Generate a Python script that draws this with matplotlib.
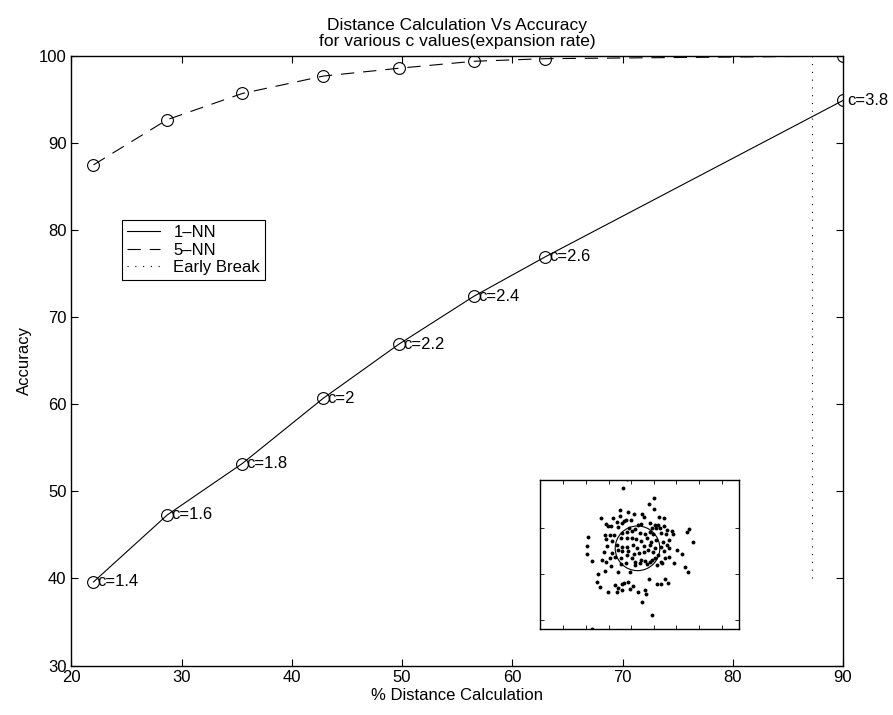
import numpy as np
import matplotlib
matplotlib.use("Agg")
import matplotlib.pyplot as plt
from matplotlib.patches import Circle

plt.rcParams['font.family'] = ['Liberation Sans', 'DejaVu Sans']
plt.rcParams['font.size'] = 12

# main curves
dist_pct = [22.0, 28.7, 35.5, 42.85, 49.7, 56.5, 63.0, 90.0]
acc_1nn = [39.6, 47.3, 53.2, 60.7, 66.9, 72.4, 76.95, 94.9]
acc_5nn = [87.5, 92.7, 95.7, 97.7, 98.6, 99.4, 99.7, 100.0]
c_labels = ["c=1.4", "c=1.6", "c=1.8", "c=2", "c=2.2", "c=2.4", "c=2.6", "c=3.8"]

early_x = [87.2, 87.2]
early_y = [40, 100]

# inset scatter (read in inset pixel units, y downward)
inset_x = [275, 265, 358, 342, 357, 255, 280, 296, 322, 327, 197, 235, 254, 373, 388, 272,
           213, 218, 245, 262, 268, 288, 310, 317, 345, 362, 370, 387, 227, 250, 282, 350,
           363, 375, 397, 412, 463, 458, 476, 160, 210, 225, 238, 262, 275, 290, 300, 315,
           330, 345, 355, 380, 393, 415, 213, 232, 258, 276, 290, 303, 318, 335, 348, 365,
           385, 402, 155, 215, 245, 260, 275, 295, 306, 328, 345, 360, 380, 398, 428, 155,
           208, 232, 248, 262, 280, 298, 312, 328, 340, 355, 370, 388, 404, 442, 172, 200,
           212, 225, 240, 258, 276, 290, 300, 318, 330, 345, 360, 378, 392, 403, 418, 228,
           258, 272, 300, 315, 335, 350, 368, 383, 450, 460, 210, 248, 285, 190, 186, 196,
           240, 248, 262, 268, 280, 295, 342, 368, 380, 392, 399, 220, 245, 262, 285, 310,
           330, 332, 321, 350, 172]
inset_y = [12, 40, 68, 88, 102, 106, 112, 118, 116, 125, 128, 128, 122, 125, 128, 136,
           146, 152, 140, 145, 138, 135, 150, 148, 145, 150, 150, 152, 153, 155, 160, 160,
           158, 160, 165, 168, 162, 172, 200, 185, 180, 180, 180, 175, 172, 168, 162, 175,
           178, 170, 178, 175, 178, 178, 192, 198, 190, 188, 190, 192, 198, 190, 200, 196,
           200, 195, 212, 212, 210, 215, 215, 210, 220, 212, 210, 218, 215, 210, 225, 237,
           230, 235, 225, 228, 228, 238, 235, 230, 225, 232, 240, 228, 218, 238, 258, 255,
           260, 248, 245, 250, 240, 250, 260, 255, 258, 262, 250, 262, 250, 245, 265, 272,
           268, 265, 270, 265, 268, 255, 270, 265, 275, 290, 288, 292, 290, 298, 320, 336,
           330, 340, 328, 325, 320, 332, 312, 328, 328, 312, 325, 350, 352, 345, 343, 352,
           345, 358, 380, 420, 462]
circle_center = (308, 220)
circle_radius = 67

fig = plt.figure(figsize=(8.93, 7.15), dpi=100)
ax = fig.add_axes([0.080, 0.0692, 0.864, 0.8524])

ax.plot(dist_pct, acc_1nn, '-', color='k', lw=0.8, label='1\u2013NN')
ax.plot(dist_pct, acc_5nn, color='k', lw=0.8, linestyle=(0, (12, 8)), label='5\u2013NN')
ax.plot(early_x, early_y, color='k', lw=0.8, linestyle=(0, (1, 6)), label='Early Break')
ax.plot(dist_pct, acc_1nn, 'o', color='k', mfc='none', ms=8.5, mew=0.8)
ax.plot(dist_pct, acc_5nn, 'o', color='k', mfc='none', ms=8.5, mew=0.8)

for x, y, lab in zip(dist_pct, acc_1nn, c_labels):
    ax.annotate(lab, (x, y), xytext=(3, 0), textcoords='offset points',
                ha='left', va='center')

ax.set_xlim(20, 90)
ax.set_ylim(30, 100)
ax.set_xticks(np.arange(20, 91, 10))
ax.set_yticks(np.arange(30, 101, 10))
ax.tick_params(direction='in', top=True, right=True, length=5, width=0.8)
for s in ax.spines.values():
    s.set_linewidth(1.0)

ax.set_xlabel('% Distance Calculation', labelpad=2)
ax.set_ylabel('Accuracy', labelpad=5)
ax.set_title('Distance Calculation Vs Accuracy\nfor various c values(expansion rate)',
             fontsize=12.5, pad=7, linespacing=1.1)

leg = ax.legend(loc='upper left', bbox_to_anchor=(0.065, 0.731), borderaxespad=0,
                fancybox=False, edgecolor='k', framealpha=1, handlelength=2.0,
                borderpad=0.3, labelspacing=0.15)
leg.get_frame().set_linewidth(0.8)

# inset
axi = fig.add_axes([0.6047, 0.1203, 0.2229, 0.2084])
axi.plot(inset_x, inset_y, 'o', color='k', ms=2.8, mew=0)
axi.add_patch(Circle(circle_center, circle_radius, fill=False, ec='k', lw=0.8))
axi.set_xlim(15, 613)
axi.set_ylim(462, 15)
axi.set_xticks(np.arange(85, 600, 68))
axi.set_yticks([160, 298, 435])
axi.set_xticklabels([])
axi.set_yticklabels([])
axi.tick_params(direction='in', top=True, right=True, length=3, width=0.6)
for s in axi.spines.values():
    s.set_linewidth(1.0)

fig.savefig('out.png', dpi=100)
